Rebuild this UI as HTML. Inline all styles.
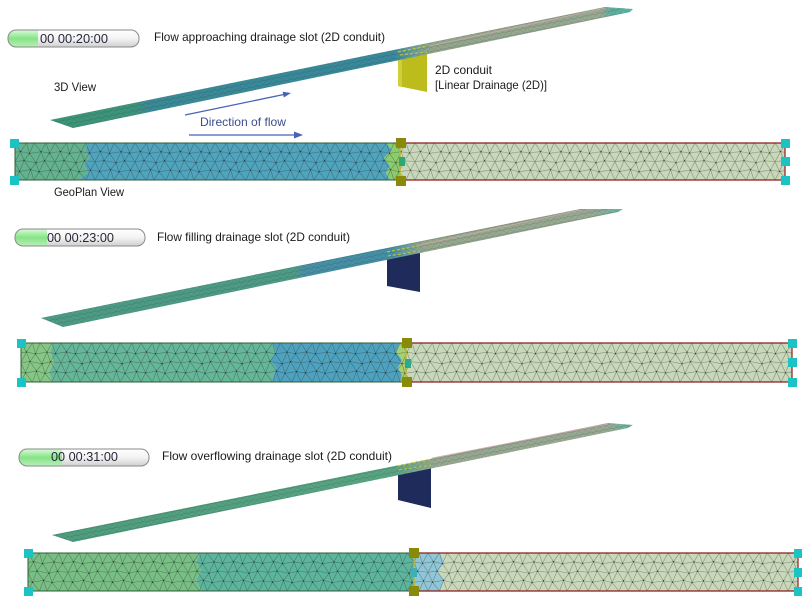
<!DOCTYPE html>
<html><head><meta charset="utf-8"><style>
html,body{margin:0;padding:0;background:#fff;}
body{width:802px;height:599px;overflow:hidden;}
svg{display:block;}
text{font-family:"Liberation Sans",sans-serif;}
</style></head><body>
<svg width="802" height="599" viewBox="0 0 802 599" xmlns="http://www.w3.org/2000/svg">
<defs>
  <g id="meshtile">
    <path d="M0,0H40 M0,37.5H40 M0,19 L9,17.8 L21,20 L29.5,18 L40,19 M-5.5,10.2 L5.5,8.6 L14.5,10.5 L26,8.8 L34.5,10.2 L45.5,8.6 M-4.5,27.5 L4.5,28.8 L15.5,27 L24,29.2 L35.5,27.5 L44.5,28.8 M0,0 L5.5,8.6 L11.5,0 L14.5,10.5 L19,0 L26,8.8 L31,0 L34.5,10.2 L40,0 M0,19 L5.5,8.6 L9,17.8 L14.5,10.5 L21,20 L26,8.8 L29.5,18 L34.5,10.2 L40,19 M0,19 L4.5,28.8 L9,17.8 L15.5,27 L21,20 L24,29.2 L29.5,18 L35.5,27.5 L40,19 M0,37.5 L4.5,28.8 L11.5,37.5 L15.5,27 L19,37.5 L24,29.2 L31,37.5 L35.5,27.5 L40,37.5" fill="none" stroke="#1c2a22" stroke-opacity="0.45" stroke-width="0.55"/>
    <g fill="#1a1a1a" fill-opacity="0.7">
      <circle cx="5.5" cy="8.6" r="0.7"/><circle cx="14.5" cy="10.5" r="0.7"/><circle cx="26" cy="8.8" r="0.7"/><circle cx="34.5" cy="10.2" r="0.7"/>
      <circle cx="9" cy="17.8" r="0.7"/><circle cx="21" cy="20" r="0.7"/><circle cx="29.5" cy="18" r="0.7"/>
      <circle cx="4.5" cy="28.8" r="0.7"/><circle cx="15.5" cy="27" r="0.7"/><circle cx="24" cy="29.2" r="0.7"/><circle cx="35.5" cy="27.5" r="0.7"/>
    </g>
  </g>
  <pattern id="m1" patternUnits="userSpaceOnUse" width="40" height="37.5" patternTransform="translate(15,143) scale(1,0.987)"><use href="#meshtile"/></pattern>
  <pattern id="m2" patternUnits="userSpaceOnUse" width="40" height="37.5" patternTransform="translate(21,343) scale(1,1.04)"><use href="#meshtile"/></pattern>
  <pattern id="m3" patternUnits="userSpaceOnUse" width="40" height="37.5" patternTransform="translate(28,553) scale(1,1.013)"><use href="#meshtile"/></pattern>
  <pattern id="fm" patternUnits="userSpaceOnUse" width="7" height="4.5" patternTransform="rotate(-11.3)">
    <path d="M0,0H7 M0,0L3.5,4.5 L7,0 M0,4.5H7" fill="none" stroke="#1a2a22" stroke-opacity="0.28" stroke-width="0.45"/>
  </pattern>
  <linearGradient id="s1" gradientUnits="userSpaceOnUse" x1="50" y1="0" x2="633" y2="0">
    <stop offset="0" stop-color="#3e9777"/><stop offset="0.146" stop-color="#3f947f"/><stop offset="0.17" stop-color="#3b8b98"/><stop offset="0.59" stop-color="#3a8a9e"/><stop offset="0.62" stop-color="#6aa0a0"/><stop offset="0.655" stop-color="#95a88e"/><stop offset="0.943" stop-color="#9aab95"/><stop offset="0.964" stop-color="#5eb0a0"/><stop offset="1" stop-color="#5ab8a8"/>
  </linearGradient>
  <linearGradient id="s2" gradientUnits="userSpaceOnUse" x1="41" y1="0" x2="623" y2="0">
    <stop offset="0" stop-color="#4e9d86"/><stop offset="0.436" stop-color="#4f9c88"/><stop offset="0.454" stop-color="#4891a6"/><stop offset="0.6" stop-color="#4690a8"/><stop offset="0.63" stop-color="#70a0a0"/><stop offset="0.66" stop-color="#98aa90"/><stop offset="0.945" stop-color="#9aab95"/><stop offset="1" stop-color="#6ab5a8"/>
  </linearGradient>
  <linearGradient id="s3" gradientUnits="userSpaceOnUse" x1="52" y1="0" x2="633" y2="0">
    <stop offset="0" stop-color="#4f9f80"/><stop offset="0.59" stop-color="#5aa684"/><stop offset="0.625" stop-color="#7aa890"/><stop offset="0.661" stop-color="#98aa92"/><stop offset="0.96" stop-color="#9aab95"/><stop offset="1" stop-color="#5ab8a8"/>
  </linearGradient>
  <linearGradient id="tb" x1="0" y1="0" x2="0" y2="1">
    <stop offset="0" stop-color="#ffffff"/><stop offset="0.5" stop-color="#f3f3f3"/><stop offset="1" stop-color="#d0d0d0"/>
  </linearGradient>
  <linearGradient id="tg" x1="0" y1="0" x2="0" y2="1">
    <stop offset="0" stop-color="#d8fad8"/><stop offset="0.5" stop-color="#86e486"/><stop offset="1" stop-color="#b8eeb8"/>
  </linearGradient>
  <clipPath id="c1"><rect x="8" y="30" width="131" height="17" rx="8"/></clipPath>
  <clipPath id="c2"><rect x="15" y="229" width="130" height="17" rx="8"/></clipPath>
  <clipPath id="c3"><rect x="19" y="449" width="130" height="17" rx="8"/></clipPath>
</defs>

<!-- ============ PANEL 1 ============ -->
<rect x="8" y="30" width="131" height="17" rx="8" fill="url(#tb)"/>
<rect x="8" y="30" width="30" height="17" fill="url(#tg)" clip-path="url(#c1)"/>
<rect x="8" y="30" width="131" height="17" rx="8" fill="none" stroke="#8a8a8a" stroke-width="1"/>
<text x="40" y="43" font-size="13" fill="#26283a" textLength="68" lengthAdjust="spacingAndGlyphs">00 00:20:00</text>
<text x="154" y="41" font-size="12" fill="#1a1a1a" textLength="231" lengthAdjust="spacingAndGlyphs">Flow approaching drainage slot (2D conduit)</text>

<polygon points="398,54 427,52 427,92 398,86" fill="#bcbc1c"/>
<polygon points="398,54 402,54 402,87 398,86" fill="#cfcf3a"/>
<polygon points="50,120 605,7 633,9 630,12 73,128" fill="url(#s1)"/>
<polygon points="50,120 605,7 633,9 630,12 73,128" fill="url(#fm)"/>
<line x1="430" y1="46" x2="605" y2="8" stroke="#d4a8a8" stroke-width="0.8"/>
<line x1="398" y1="52" x2="425" y2="46.5" stroke="#c8c830" stroke-width="1.2" stroke-dasharray="3,2"/>
<line x1="400" y1="55" x2="427" y2="52" stroke="#c8c830" stroke-width="1" stroke-dasharray="3,2"/>

<text x="54" y="91" font-size="12" fill="#1a1a1a" textLength="42" lengthAdjust="spacingAndGlyphs">3D View</text>
<text x="435" y="74" font-size="12" fill="#1a1a1a" textLength="57" lengthAdjust="spacingAndGlyphs">2D conduit</text>
<text x="435" y="89" font-size="12" fill="#1a1a1a" textLength="112" lengthAdjust="spacingAndGlyphs">[Linear Drainage (2D)]</text>

<line x1="185" y1="115" x2="285" y2="94.3" stroke="#4a62b4" stroke-width="1.3"/>
<polygon points="291,93 283.8,97.5 282.6,91.7" fill="#4a62b4"/>
<text x="200" y="126" font-size="12" fill="#3d4d8e" textLength="86" lengthAdjust="spacingAndGlyphs">Direction of flow</text>
<line x1="189" y1="135" x2="296" y2="135" stroke="#4a62b4" stroke-width="1.3"/>
<polygon points="303,135 294,131.5 294,138.5" fill="#4a62b4"/>

<polygon points="15,143 88,143 85,150 90,157 84,165 88,172 79,180 15,180" fill="#64b28e"/>
<polygon points="88,143 386,143 392,150 384,158 390,166 386,173 390,180 79,180 88,172 84,165 90,157 85,150" fill="#50a4be"/>
<polygon points="386,143 400,143 400,180 390,180 386,173 390,166 384,158 392,150" fill="#8ccc6c"/>
<rect x="400" y="143" width="385" height="37" fill="#c9d8ba"/>
<rect x="15" y="143" width="770" height="37" fill="url(#m1)"/>
<rect x="15" y="143" width="385" height="37" fill="none" stroke="#2d5e3a" stroke-width="1"/>
<path d="M400,143H785V180H400" fill="none" stroke="#8e1c1c" stroke-width="1.2"/>
<line x1="400" y1="143" x2="400" y2="180" stroke="#b8b830" stroke-width="1.5"/>
<rect x="399" y="157" width="6" height="9" fill="#2fa878"/>
<text x="54" y="196" font-size="12" fill="#1a1a1a" textLength="70" lengthAdjust="spacingAndGlyphs">GeoPlan View</text>
<g fill="#1ac4c4">
  <rect x="10" y="139" width="9" height="9"/><rect x="10" y="176" width="9" height="9"/>
  <rect x="781" y="139" width="9" height="9"/><rect x="781" y="157" width="9" height="9"/><rect x="781" y="176" width="9" height="9"/>
</g>
<g fill="#8a8a0a">
  <rect x="396" y="138" width="10" height="10"/><rect x="396" y="176" width="10" height="10"/>
</g>

<!-- ============ PANEL 2 ============ -->
<rect x="15" y="229" width="130" height="17" rx="8" fill="url(#tb)"/>
<rect x="15" y="229" width="32" height="17" fill="url(#tg)" clip-path="url(#c2)"/>
<rect x="15" y="229" width="130" height="17" rx="8" fill="none" stroke="#8a8a8a" stroke-width="1"/>
<text x="47" y="242" font-size="13" fill="#26283a" textLength="67" lengthAdjust="spacingAndGlyphs">00 00:23:00</text>
<text x="157" y="241" font-size="12" fill="#1a1a1a" textLength="193" lengthAdjust="spacingAndGlyphs">Flow filling drainage slot (2D conduit)</text>

<polygon points="387,253 420,250 420,292 387,286" fill="#1e2b5b"/>
<polygon points="41,318 580,209 623,209 618,212 63,327" fill="url(#s2)"/>
<polygon points="41,318 580,209 623,209 618,212 63,327" fill="url(#fm)"/>
<line x1="420" y1="245" x2="580" y2="210" stroke="#d4a8a8" stroke-width="0.8"/>
<line x1="387" y1="252" x2="420" y2="245.5" stroke="#c8c830" stroke-width="1.2" stroke-dasharray="3,2"/>
<line x1="388" y1="256" x2="420" y2="251" stroke="#c8c830" stroke-width="1" stroke-dasharray="3,2"/>

<polygon points="21,343 53,343 50,352 54,362 49,372 52,382 21,382" fill="#86c684"/>
<polygon points="53,343 272,343 276,352 270,360 276,368 272,382 52,382 49,372 54,362 50,352" fill="#66b69a"/>
<polygon points="272,343 400,343 396,352 402,360 398,368 402,375 400,382 272,382 276,368 270,360 276,352" fill="#4fa2bf"/>
<polygon points="400,343 406,343 406,382 400,382 402,375 398,368 402,360 396,352" fill="#a8d070"/>
<rect x="406" y="343" width="386" height="39" fill="#c9d8ba"/>
<rect x="21" y="343" width="771" height="39" fill="url(#m2)"/>
<rect x="21" y="343" width="385" height="39" fill="none" stroke="#2d5e3a" stroke-width="1"/>
<path d="M406,343H792V382H406" fill="none" stroke="#8e1c1c" stroke-width="1.2"/>
<line x1="406" y1="343" x2="406" y2="382" stroke="#b8b830" stroke-width="1.5"/>
<rect x="405" y="359" width="6" height="9" fill="#2fa890"/>
<g fill="#1ac4c4">
  <rect x="17" y="339" width="9" height="9"/><rect x="17" y="378" width="9" height="9"/>
  <rect x="788" y="339" width="9" height="9"/><rect x="788" y="358" width="9" height="9"/><rect x="788" y="378" width="9" height="9"/>
</g>
<g fill="#8a8a0a">
  <rect x="402" y="338" width="10" height="10"/><rect x="402" y="377" width="10" height="10"/>
</g>

<!-- ============ PANEL 3 ============ -->
<rect x="19" y="449" width="130" height="17" rx="8" fill="url(#tb)"/>
<rect x="19" y="449" width="43" height="17" fill="url(#tg)" clip-path="url(#c3)"/>
<rect x="19" y="449" width="130" height="17" rx="8" fill="none" stroke="#8a8a8a" stroke-width="1"/>
<text x="51" y="461" font-size="13" fill="#26283a" textLength="67" lengthAdjust="spacingAndGlyphs">00 00:31:00</text>
<text x="162" y="460" font-size="12" fill="#1a1a1a" textLength="230" lengthAdjust="spacingAndGlyphs">Flow overflowing  drainage slot (2D conduit)</text>

<polygon points="398,469 431,466 431,508 398,500" fill="#1e2b5b"/>
<polygon points="52,535 608,423 633,425 628,428 73,542" fill="url(#s3)"/>
<polygon points="52,535 608,423 633,425 628,428 73,542" fill="url(#fm)"/>
<line x1="432" y1="458" x2="608" y2="424" stroke="#d4a8a8" stroke-width="0.8"/>
<line x1="398" y1="466" x2="431" y2="459.5" stroke="#c8c830" stroke-width="1.2" stroke-dasharray="3,2"/>
<line x1="399" y1="470" x2="431" y2="465" stroke="#c8c830" stroke-width="1" stroke-dasharray="3,2"/>

<polygon points="28,553 200,553 196,562 201,570 196,580 201,591 28,591" fill="#79be84"/>
<polygon points="200,553 414,553 414,591 201,591 196,580 201,570 196,562" fill="#5db59e"/>
<polygon points="414,553 440,553 444,562 438,572 444,580 440,591 414,591" fill="#90c6d8"/>
<polygon points="440,553 798,553 798,591 440,591 444,580 438,572 444,562" fill="#c9d8ba"/>
<rect x="28" y="553" width="770" height="38" fill="url(#m3)"/>
<rect x="28" y="553" width="386" height="38" fill="none" stroke="#2d5e3a" stroke-width="1"/>
<path d="M414,553H798V591H414" fill="none" stroke="#8e1c1c" stroke-width="1.2"/>
<line x1="414" y1="553" x2="414" y2="591" stroke="#b8b830" stroke-width="1.5"/>
<rect x="411" y="568" width="6" height="9" fill="#3ab0b8"/>
<g fill="#1ac4c4">
  <rect x="24" y="549" width="9" height="9"/><rect x="24" y="587" width="9" height="9"/>
  <rect x="794" y="549" width="9" height="9"/><rect x="794" y="568" width="9" height="9"/><rect x="794" y="587" width="9" height="9"/>
</g>
<g fill="#8a8a0a">
  <rect x="409" y="548" width="10" height="10"/><rect x="409" y="586" width="10" height="10"/>
</g>
</svg>
</body></html>
